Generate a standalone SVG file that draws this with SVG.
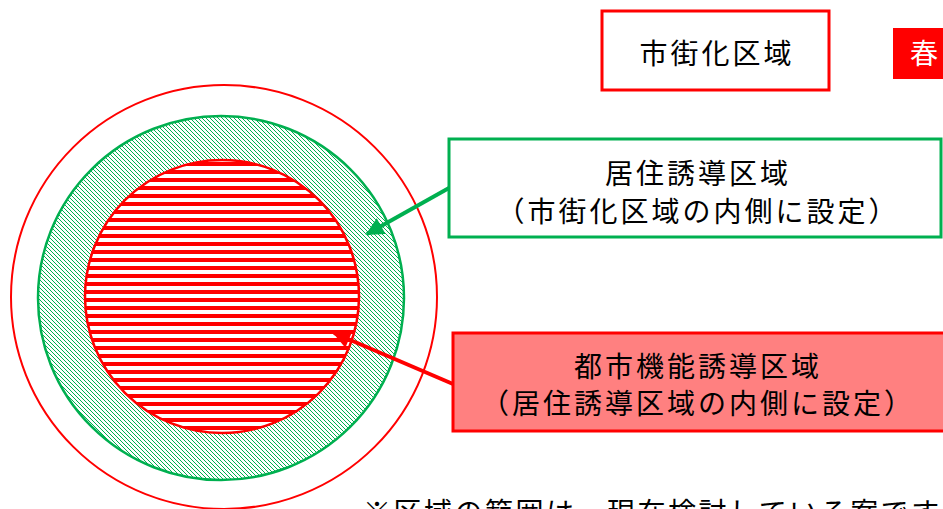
<svg xmlns="http://www.w3.org/2000/svg" width="943" height="509" viewBox="0 0 943 509">
<style>
.t{font-family:"Noto Sans CJK JP","Noto Sans",sans-serif;font-size:28px;fill:#000;letter-spacing:3px}
.w{fill:#fff;letter-spacing:0}
</style>
<defs>
<pattern id="gh" patternUnits="userSpaceOnUse" width="4" height="4">
<rect width="4" height="4" fill="#fff"/>
<path d="M-1,-1 L5,5 M-1,3 L1,5 M3,-1 L5,1" stroke="#00B050" stroke-width="1"/>
</pattern>
<pattern id="rh" patternUnits="userSpaceOnUse" width="8" height="8" y="2">
<rect width="8" height="8" fill="#fff"/>
<rect width="8" height="4" fill="#FF0000"/>
</pattern>
<marker id="ag" viewBox="0 0 10 10" refX="9" refY="5" markerWidth="5" markerHeight="4.5" orient="auto" markerUnits="strokeWidth">
<path d="M0,0 L10,5 L0,10 z" fill="#00B050"/>
</marker>
<marker id="ar" viewBox="0 0 10 10" refX="9" refY="5" markerWidth="5" markerHeight="4.5" orient="auto" markerUnits="strokeWidth">
<path d="M0,0 L10,5 L0,10 z" fill="#FF0000"/>
</marker>
</defs>
<rect width="943" height="509" fill="#fff"/>
<g id="outer-circle">
<ellipse cx="224" cy="297" rx="213" ry="212" fill="none" stroke="#FF0000" stroke-width="2"/>
</g>
<g id="residential-circle">
<ellipse cx="221" cy="298" rx="183" ry="182" fill="url(#gh)" stroke="#00B050" stroke-width="2.5"/>
</g>
<g id="urban-function-circle">
<ellipse cx="222" cy="296.5" rx="137" ry="136.5" fill="url(#rh)" stroke="#FF0000" stroke-width="2.5"/>
</g>
<g id="connectors">
<line x1="449" y1="188" x2="367" y2="234" stroke="#00B050" stroke-width="4" marker-end="url(#ag)"/>
<line x1="453" y1="384" x2="334" y2="333" stroke="#FF0000" stroke-width="4" marker-end="url(#ar)"/>
</g>
<g id="box-shigaika">
<rect x="602" y="11" width="227" height="79" fill="#fff" stroke="#FF0000" stroke-width="3"/>
<text class="t" x="717" y="64" text-anchor="middle">市街化区域</text>
</g>
<g id="tag-haru">
<rect x="893" y="28" width="55" height="51" fill="#FF0000"/>
<text class="t w" x="910" y="64">春</text>
</g>
<g id="box-kyoju">
<rect x="449" y="139" width="492" height="98" fill="#fff" stroke="#00B050" stroke-width="3"/>
<text class="t" x="698" y="184" text-anchor="middle">居住誘導区域</text>
<text class="t" x="698" y="222" text-anchor="middle">（市街化区域の内側に設定）</text>
</g>
<g id="box-toshikino">
<rect x="453" y="333" width="495" height="98" fill="#FF8080" stroke="#FF0000" stroke-width="3"/>
<text class="t" x="698" y="377" text-anchor="middle">都市機能誘導区域</text>
<text class="t" x="698" y="414" text-anchor="middle">（居住誘導区域の内側に設定）</text>
</g>
<g id="note">
<text class="t" x="363" y="523" style="letter-spacing:2.5px">※区域の範囲は、現在検討している案です</text>
</g>
</svg>
